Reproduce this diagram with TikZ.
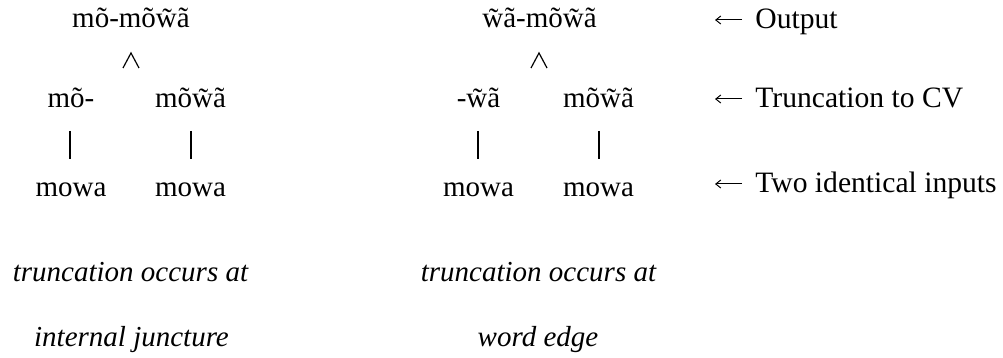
\documentclass[tikz,border=0pt]{standalone}
\usepackage{fontspec}
\setmainfont{Liberation Serif}
\usetikzlibrary{arrows.meta}
\begin{document}
\begin{tikzpicture}[x=0.5pt,y=-0.5pt,
  txt/.style={inner sep=0pt, anchor=base, font=\fontsize{14.5}{17}\selectfont},
  lbl/.style={txt, anchor=base west, font=\fontsize{14.8}{17}\selectfont},
  note/.style={txt, font=\fontsize{14.5}{17}\selectfont\itshape},
  bar/.style={line width=0.6pt},
  arr/.style={line width=0.5pt, -{Straight Barb[length=2.5pt,width=4pt,line width=0.5pt]}}]
\useasboundingbox (0,0) rectangle (1003,358);
% left tree
\node[txt] (o1) at (131,28) {mõ-mõw̃ã};
\node[txt] (t1a) at (71,108) {mõ-};
\node[txt] (t1b) at (190.5,108) {mõw̃ã};
\node[txt] (i1a) at (71,197) {mowa};
\node[txt] (i1b) at (190.5,197) {mowa};
% right tree
\node[txt] (o2) at (539.5,28) {w̃ã-mõw̃ã};
\node[txt] (t2a) at (478.5,108) {-w̃ã};
\node[txt] (t2b) at (598.5,108) {mõw̃ã};
\node[txt] (i2a) at (478.5,197) {mowa};
\node[txt] (i2b) at (598.5,197) {mowa};
% row labels
\node[lbl] (l1) at (755,29) {Output};
\node[lbl] (l2) at (755,108) {Truncation to CV};
\node[lbl] (l3) at (755,193) {Two identical inputs};
\coordinate (a1s) at (742,20); \coordinate (a1e) at (715,20);
\coordinate (a2s) at (742,99); \coordinate (a2e) at (715,99);
\coordinate (a3s) at (742,184); \coordinate (a3e) at (715,184);
\draw[arr] (a1s) -- (a1e);
\draw[arr] (a2s) -- (a2e);
\draw[arr] (a3s) -- (a3e);
% notes
\node[note] (n1) at (130.5,282) {truncation occurs at};
\node[note] (n2) at (131.5,347) {internal juncture};
\node[note] (n3) at (538.5,282) {truncation occurs at};
\node[note] (n4) at (538,347) {word edge};
% carets
\coordinate (c1l) at (123,68); \coordinate (c1t) at (131,53); \coordinate (c1r) at (139,68);
\coordinate (c2l) at (531,68); \coordinate (c2t) at (539,53); \coordinate (c2r) at (547,68);
\draw[bar] (c1l) -- (c1t) -- (c1r);
\draw[bar] (c2l) -- (c2t) -- (c2r);
% bars
\coordinate (b1t) at (70,131); \coordinate (b1b) at (70,159);
\coordinate (b2t) at (191,131); \coordinate (b2b) at (191,159);
\coordinate (b3t) at (478,131); \coordinate (b3b) at (478,159);
\coordinate (b4t) at (599,131); \coordinate (b4b) at (599,159);
\draw[bar] (b1t) -- (b1b);
\draw[bar] (b2t) -- (b2b);
\draw[bar] (b3t) -- (b3b);
\draw[bar] (b4t) -- (b4b);
\end{tikzpicture}
\end{document}
